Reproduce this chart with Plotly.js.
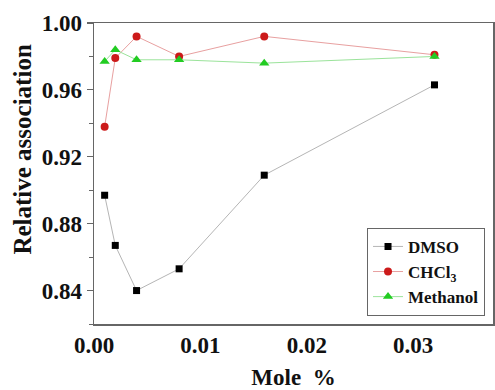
<!DOCTYPE html>
<html>
<head>
<meta charset="utf-8">
<script src="https://cdn.plot.ly/plotly-3.0.1.min.js"></script>
<style>
  html, body { margin: 0; padding: 0; background: #fff; }
  #chart { width: 495px; height: 390px; }
</style>
</head>
<body>
<div id="chart"></div>
<script>
// Mole fraction of additive
const molePct = [0.001, 0.002, 0.004, 0.008, 0.016, 0.032];

// Relative association for each solvent
const dmso     = [0.897, 0.867, 0.840, 0.853, 0.909, 0.963];
const chcl3    = [0.938, 0.979, 0.992, 0.980, 0.992, 0.981];
const methanol = [0.977, 0.984, 0.978, 0.978, 0.976, 0.980];

const seriesNames = ['DMSO', 'CHCl<sub>3</sub>', 'Methanol'];
const yTickVals = [0.84, 0.88, 0.92, 0.96, 1.00];
const xTickVals = [0.00, 0.01, 0.02, 0.03];

const serif = 'Liberation Serif, Times New Roman, serif';

const traces = [
  {
    x: molePct, y: dmso, name: seriesNames[0], mode: 'lines+markers',
    line: { color: '#b5b5b5', width: 1 },
    marker: { symbol: 'square', size: 7, color: '#000000' }
  },
  {
    x: molePct, y: chcl3, name: seriesNames[1], mode: 'lines+markers',
    line: { color: '#e8a0a0', width: 1 },
    marker: { symbol: 'circle', size: 8, color: '#cc1a1a' }
  },
  {
    x: molePct, y: methanol, name: seriesNames[2], mode: 'lines+markers',
    line: { color: '#9be39b', width: 1 },
    marker: { symbol: 'triangle-up', size: 9, color: '#22cc22' }
  }
];

const layout = {
  width: 495, height: 390,
  margin: { l: 94, r: 2, t: 23, b: 66 },
  paper_bgcolor: '#ffffff', plot_bgcolor: '#ffffff',
  font: { family: serif, color: '#111111' },
  showlegend: true,
  legend: {
    x: 0.98, y: 0.027, xanchor: 'right', yanchor: 'bottom',
    bgcolor: '#ffffff', bordercolor: '#666666', borderwidth: 1,
    font: { family: serif, size: 17, color: '#111111', weight: 'bold' },
    tracegroupgap: 0, itemwidth: 30
  },
  xaxis: {
    range: [0, 0.0375],
    tickvals: xTickVals,
    ticktext: xTickVals.map(v => v.toFixed(2)),
    ticks: '',
    showgrid: false, zeroline: false,
    showline: true, mirror: true, linecolor: '#666666', linewidth: 1.5,
    tickfont: { family: serif, size: 23, color: '#111111', weight: 'bold' },
    title: { text: 'Mole  %', font: { family: serif, size: 23, color: '#111111', weight: 'bold' }, standoff: 18 }
  },
  yaxis: {
    range: [0.82, 1.0],
    tickvals: yTickVals,
    ticktext: yTickVals.map(v => v.toFixed(2)),
    ticks: 'outside', ticklen: 6, tickcolor: '#666666', tickwidth: 1.2,
    minor: { ticks: 'outside', dtick: 0.02, tick0: 0.82, ticklen: 4, tickcolor: '#666666', tickwidth: 1 },
    showgrid: false, zeroline: false,
    showline: true, mirror: true, linecolor: '#666666', linewidth: 1.5,
    tickfont: { family: serif, size: 23, color: '#111111', weight: 'bold' }
  },
  // Y-axis title placed slightly above the plot's vertical centre
  annotations: [{
    text: 'Relative association',
    xref: 'paper', yref: 'paper',
    x: -0.18, y: 0.58, xanchor: 'center', yanchor: 'middle',
    textangle: -90, showarrow: false,
    font: { family: serif, size: 25, color: '#111111', weight: 'bold' }
  }]
};

Plotly.newPlot('chart', traces, layout, { displayModeBar: false, staticPlot: true });
</script>
</body>
</html>
